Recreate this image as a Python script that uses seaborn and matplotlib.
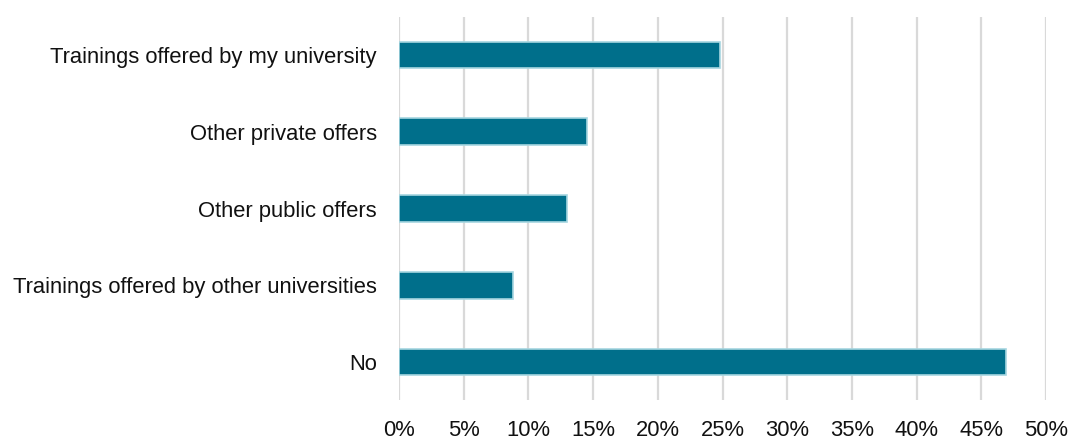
import matplotlib
matplotlib.use("Agg")
import matplotlib.pyplot as plt
from matplotlib import font_manager
from matplotlib.ticker import PercentFormatter, MultipleLocator
import seaborn as sns
import pandas as pd

categories = [
    "Trainings offered by my university",
    "Other private offers",
    "Other public offers",
    "Trainings offered by other universities",
    "No",
]
shares = [24.8, 14.5, 13.0, 8.8, 46.9]

sns.set_theme(style="white")

available = {f.name for f in font_manager.fontManager.ttflist}
if "Liberation Sans Narrow" in available:
    family, fsize = "Liberation Sans Narrow", 19
else:
    family, fsize = "Liberation Sans", 15.8
plt.rcParams["font.family"] = [family, "DejaVu Sans"]

df = pd.DataFrame({"category": categories, "share": shares})

fig = plt.figure(figsize=(10.72, 4.44), dpi=100)
ax = fig.add_axes([399 / 1072, 1 - 400.4 / 444, 647 / 1072, (400.4 - 16.6) / 444])

sns.barplot(
    data=df, y="category", x="share", orient="h", ax=ax,
    color="#006f8b", width=0.35, edgecolor="#a6d6e0", linewidth=1.2,
    saturation=1,
)

ax.set_xlim(0, 50)
ax.set_ylim(4.5, -0.5)
ax.xaxis.set_major_locator(MultipleLocator(5))
ax.xaxis.set_major_formatter(PercentFormatter(decimals=0))
ax.grid(axis="x", color="#d9d9d9", linewidth=1.6)
ax.grid(axis="y", visible=False)
ax.set_axisbelow(True)
for s in ax.spines.values():
    s.set_visible(False)
ax.set_xlabel("")
ax.set_ylabel("")
ax.tick_params(axis="y", length=0, pad=16, labelsize=fsize, labelcolor="#111111")
ax.tick_params(axis="x", length=0, pad=14, labelsize=fsize, labelcolor="#111111")

fig.savefig("out.png", dpi=100)
